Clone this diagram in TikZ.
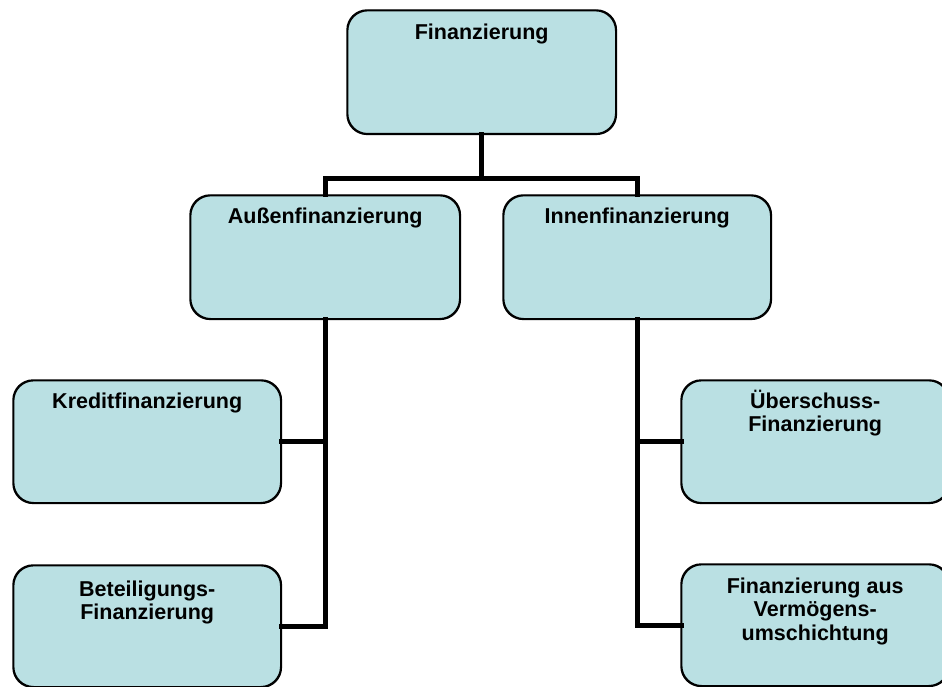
\documentclass[tikz,border=0pt]{standalone}
\usepackage{fontspec}
\setmainfont{Liberation Sans}
\definecolor{boxfill}{RGB}{186,224,227}
\begin{document}
\begin{tikzpicture}[x=1pt,y=-1pt,
  box/.style={draw=black,line width=1.4pt,fill=boxfill,rounded corners=20pt,
    anchor=north west,inner sep=0pt},
  label text/.style={anchor=north,inner sep=0pt,align=center,
    font=\fontsize{21.5}{23.5}\selectfont\bfseries},
  conn/.style={line width=5pt,line cap=rect,line join=miter}]
\useasboundingbox (0,0) rectangle (942,687);

% boxes
\node[box,minimum width=268pt,minimum height=123pt] (fin)    at (347,10)  {};
\node[box,minimum width=269pt,minimum height=123pt] (aussen) at (190,195) {};
\node[box,minimum width=267pt,minimum height=123pt] (innen)  at (503,195) {};
\node[box,minimum width=267pt,minimum height=122pt] (kredit) at (13,380)  {};
\node[box,minimum width=267pt,minimum height=121pt] (bet)    at (13,565)  {};
\node[box,minimum width=267pt,minimum height=122pt] (ueber)  at (681,380) {};
\node[box,minimum width=267pt,minimum height=121pt] (verm)   at (681,564) {};

% connectors
\draw[conn] (fin.south) -- ++(0,44) coordinate (bus);
\draw[conn] (aussen.north) |- (bus) -| (innen.north);
\draw[conn] (aussen.south) |- (bet.east);
\draw[conn] (kredit.east) -- (kredit.east -| aussen.south);
\draw[conn] (innen.south) |- (verm.west);
\draw[conn] (ueber.west) -- (ueber.west -| innen.south);

% redraw box outlines over connector ends
\foreach \b in {fin,aussen,innen,kredit,bet,ueber,verm}
  \draw[line width=1.4pt,rounded corners=20pt] (\b.north west) rectangle (\b.south east);

% labels
\newcommand{\toprule}{\rule{0pt}{20pt}}
\node[label text] (tfin)    at ([yshift=-9pt]fin.north)    {\toprule Finanzierung};
\node[label text] (taussen) at ([yshift=-8pt]aussen.north) {\toprule Außenfinanzierung};
\node[label text] (tinnen)  at ([yshift=-8pt]innen.north)  {\toprule Innenfinanzierung};
\node[label text] (tkredit) at ([yshift=-8pt]kredit.north) {\toprule Kreditfinanzierung};
\node[label text] (tbet)    at ([yshift=-11pt]bet.north)   {\toprule Beteiligungs-\\Finanzierung};
\node[label text] (tueber)  at ([yshift=-8pt]ueber.north)  {\toprule Überschuss-\\Finanzierung};
\node[label text] (tverm)   at ([yshift=-9pt]verm.north)   {\toprule Finanzierung aus\\Vermögens-\\umschichtung};
\end{tikzpicture}
\end{document}
